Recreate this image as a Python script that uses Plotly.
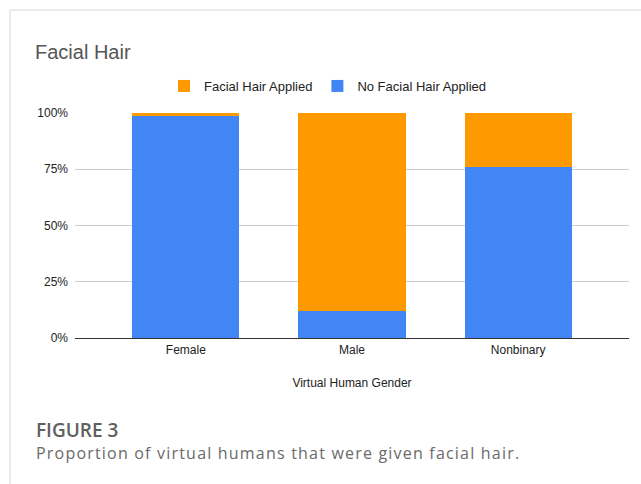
import plotly.graph_objects as go

# Data
genders = ["Female", "Male", "Nonbinary"]
no_facial_hair = [0.988, 0.122, 0.761]
facial_hair = [0.012, 0.878, 0.239]
series_names = ["No Facial Hair Applied", "Facial Hair Applied"]
y_ticks = [0, 0.25, 0.5, 0.75, 1.0]

W, H = 641, 484
L, R, T, B = 75, 12, 113, 146
PW, PH = W - L - R, H - T - B


def px(x):
    return (x - L) / PW


def py(y):
    return (H - B - y) / PH


BLUE = "#4285f4"
ORANGE = "#ff9900"
FONT = "Liberation Sans, Arial, sans-serif"
CAPTION = "Proportion of virtual humans that were given facial hair."

fig = go.Figure()
fig.add_trace(go.Bar(x=genders, y=no_facial_hair, name=series_names[0],
                     marker=dict(color=BLUE, line=dict(width=0)), width=0.645))
fig.add_trace(go.Bar(x=genders, y=facial_hair, name=series_names[1],
                     marker=dict(color=ORANGE, line=dict(width=0)), width=0.645))

fig.update_layout(
    width=W, height=H,
    margin=dict(l=L, r=R, t=T, b=B, pad=0),
    barmode="stack",
    paper_bgcolor="white", plot_bgcolor="white",
    font=dict(family=FONT, size=12, color="#333"),
    showlegend=True,
    legend=dict(orientation="h", traceorder="reversed",
                x=px(328), xanchor="center", y=py(86), yanchor="middle",
                font=dict(size=13, color="#222"), bgcolor="rgba(0,0,0,0)"),
    title=dict(text="Facial Hair", x=35 / W, xanchor="left",
               y=1 - 52 / H, yanchor="middle",
               font=dict(family=FONT, size=20, color="#555")),
    xaxis=dict(range=[-0.667, 2.667], showgrid=False, showline=False,
               ticks="", ticklabelstandoff=3,
               tickfont=dict(size=12, color="#222"),
               title=dict(text="Virtual Human Gender", standoff=22,
                          font=dict(size=12, color="#222"))),
    yaxis=dict(range=[0, 1], tickvals=y_ticks, tickformat=".0%",
               showgrid=True, gridcolor="#cccccc", gridwidth=1,
               zeroline=True, zerolinecolor="#333", zerolinewidth=1,
               showline=False, ticks="", ticklabelstandoff=6,
               tickfont=dict(size=12, color="#222")),
    shapes=[
        dict(type="line", xref="paper", yref="paper",
             x0=px(10), x1=px(W + 2), y0=py(10), y1=py(10),
             line=dict(color="#d6d6d6", width=1)),
        dict(type="line", xref="paper", yref="paper",
             x0=px(10), x1=px(10), y0=py(10), y1=py(H + 2),
             line=dict(color="#d6d6d6", width=1)),
    ],
    annotations=[
        dict(text="FIGURE 3", xref="paper", yref="paper",
             x=px(34), y=py(430), xanchor="left", yanchor="middle",
             showarrow=False,
             font=dict(family="Open Sans, sans-serif", size=19,
                       weight=600, color="#606060")),
        dict(text=f'<span style="letter-spacing:1.2px">{CAPTION}</span>',
             xref="paper", yref="paper",
             x=px(34), y=py(453), xanchor="left", yanchor="middle",
             showarrow=False,
             font=dict(family="Open Sans, sans-serif", size=16,
                       color="#6a6a6a")),
    ],
)

fig.write_html("out.html")
